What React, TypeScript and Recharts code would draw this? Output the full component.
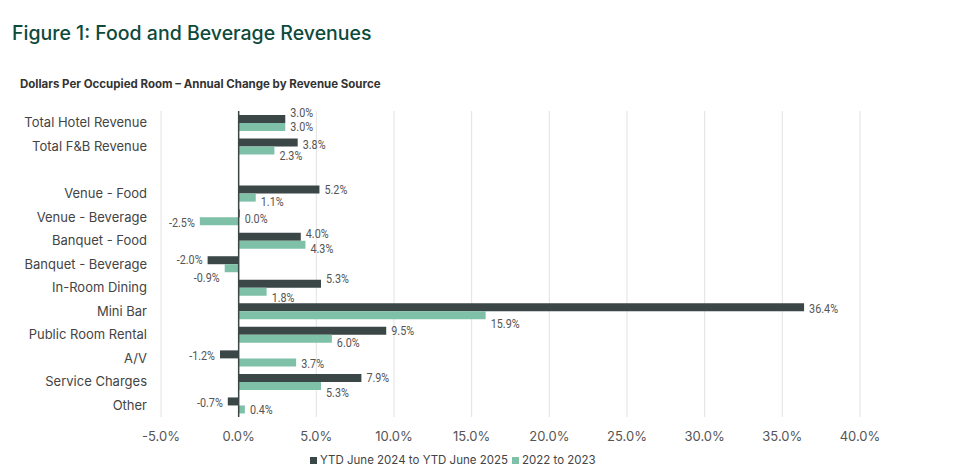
import { Bar, BarChart, CartesianGrid, LabelList, ReferenceLine, XAxis, YAxis } from "recharts";

const categories = [
  "Total Hotel Revenue",
  "Total F&B Revenue",
  " ",
  "Venue - Food",
  "Venue - Beverage",
  "Banquet - Food",
  "Banquet - Beverage",
  "In-Room Dining",
  "Mini Bar",
  "Public Room Rental",
  "A/V",
  "Service Charges",
  "Other",
];
const ytd2025 = [3.0, 3.8, null, 5.2, 0.0, 4.0, -2.0, 5.3, 36.4, 9.5, -1.2, 7.9, -0.7];
const y2023 = [3.0, 2.3, null, 1.1, -2.5, 4.3, -0.9, 1.8, 15.9, 6.0, 3.7, 5.3, 0.4];
const xTicks = [-5, 0, 5, 10, 15, 20, 25, 30, 35, 40];

const data = categories.map((name, i) => ({ name, ytd: ytd2025[i], prior: y2023[i] }));

const DARK = "#3b4646";
const TEAL = "#7fc0a9";
const FONT = "Inter, 'Noto Sans', sans-serif";

// vertical nudges (px) for the value labels, so they don't collide like in the original
const darkNudge = [-6, 2, 0, 0, 5, -3, -1, -5, 1, 0, 1, 0, 1];
const tealNudge = [0, 5, 0, 4, 1, 4, 9, 6, 8, 4, 1, 7, 0];

// label gets the category name, value looked up from the series array
// condensed-looking text (no condensed font available, so squeeze horizontally)
const makeLabel = (values: (number | null)[], nudge: number[]) => (props: any) => {
  const { x, y, width, height } = props;
  const i = categories.indexOf(props.value);
  const value = values[i];
  if (i < 0 || value === null || value === undefined) return null;
  const x0 = Number(x);
  const w = Number(width);
  const end = value >= 0 ? Math.max(x0, x0 + w) : Math.min(x0, x0 + w);
  const neg = value < 0;
  const tx = neg ? end - 5 : end + 5;
  const ty = Number(y) + Number(height) / 2 + nudge[i];
  return (
    <text
      transform={`translate(${tx},${ty}) scale(0.8,1)`}
      dominantBaseline="central"
      textAnchor={neg ? "end" : "start"}
      fontSize={13.5}
      fill="#555"
      fontFamily="Roboto, sans-serif"
    >
      {value.toFixed(1)}%
    </text>
  );
};

export default function App() {
  return (
    <div style={{ position: "fixed", left: 0, top: 0, width: 961, height: 471, background: "#fff", fontFamily: FONT }}>
      <div style={{ position: "absolute", left: 12, top: 21, fontSize: 19.5, fontWeight: 500, color: "#0d4a3b", whiteSpace: "nowrap" }}>
        Figure 1: Food and Beverage Revenues
      </div>
      <div style={{ position: "absolute", left: 20, top: 77, fontSize: 11.5, fontWeight: 700, color: "#333", whiteSpace: "nowrap" }}>
        Dollars Per Occupied Room – Annual Change by Revenue Source
      </div>
      <div style={{ position: "absolute", top: 0, left: 0 }}>
        <BarChart
          width={961}
          height={471}
          data={data}
          layout="vertical"
          margin={{ top: 111, right: 101, left: 0, bottom: 24 }}
          barGap={0}
          barSize={8}
        >
          <CartesianGrid horizontal={false} stroke="#e2e2e2" />
          <XAxis
            type="number"
            domain={[-5, 40]}
            ticks={xTicks}
            tickFormatter={(v) => `${Number(v).toFixed(1)}%`}
            axisLine={false}
            tickLine={false}
            tickMargin={9}
            height={30}
            tick={{ fontSize: 13, fill: "#555", fontFamily: FONT }}
          />
          <YAxis
            type="category"
            dataKey="name"
            width={161}
            axisLine={false}
            tickLine={false}
            tickMargin={8}
            interval={0}
            tick={{ fontSize: 13, fill: "#444", fontFamily: FONT }}
          />
          <Bar
            dataKey="ytd"
            name="YTD June 2024 to YTD June 2025"
            fill={DARK}
            minPointSize={(v: any) => (v === 0 ? 1 : 0)}
            isAnimationActive={false}
          >
            <LabelList dataKey="name" content={makeLabel(ytd2025, darkNudge)} />
          </Bar>
          <Bar dataKey="prior" name="2022 to 2023" fill={TEAL} isAnimationActive={false}>
            <LabelList dataKey="name" content={makeLabel(y2023, tealNudge)} />
          </Bar>
          <ReferenceLine x={0} stroke="#3b4646" strokeWidth={1.5} />
        </BarChart>
      </div>
      <div
        style={{
          position: "absolute",
          left: 310,
          top: 453,
          fontSize: 11.5,
          color: "#444",
          whiteSpace: "nowrap",
          display: "flex",
          alignItems: "center",
        }}
      >
        <span style={{ display: "inline-block", width: 7, height: 7, background: DARK, marginRight: 3 }} />
        <span style={{ marginRight: 4 }}>YTD June 2024 to YTD June 2025</span>
        <span style={{ display: "inline-block", width: 7, height: 7, background: TEAL, marginRight: 3 }} />
        <span>2022 to 2023</span>
      </div>
    </div>
  );
}
